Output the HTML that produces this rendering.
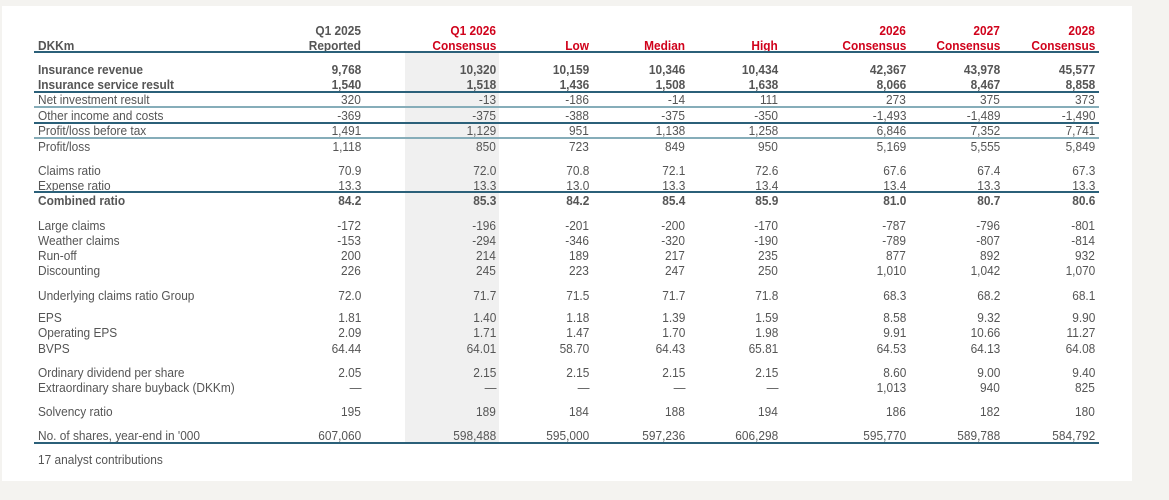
<!DOCTYPE html>
<html><head><meta charset="utf-8"><style>
body{margin:0;width:1169px;height:500px;background:#f4f3f0;position:relative;overflow:hidden;font-family:"Liberation Sans",sans-serif;font-size:12.5px;color:#555}
#p{position:absolute;left:2px;top:6px;width:1130px;height:475px;background:#fff}
#sh{position:absolute;left:405px;top:53px;width:94px;height:389px;background:#f0f0f0}
.r{position:absolute;left:0;width:1169px;height:16px;line-height:16px}
.r span{position:absolute;white-space:nowrap;transform:scaleX(0.95)}
.r span.l{left:38px;transform-origin:left center}
.r span:not(.l){transform-origin:right center}
.c1{right:808px}.c2{right:673px}.c3{right:580px}.c4{right:484px}.c5{right:391px}.c6{right:263px}.c7{right:169px}.c8{right:74px}
.b{font-weight:bold}
.h{font-weight:bold;color:#d0021b}
.hg{font-weight:bold;color:#555}
.ln{position:absolute;left:34px;width:1065px;height:2px;background:#2b6079}
.lt{background:#86adb9}
</style></head><body>
<div id="p"></div><div id="sh"></div>
<div class="r" style="top:23px"><span class="c1 hg">Q1 2025</span><span class="c2 h">Q1 2026</span><span class="c6 h">2026</span><span class="c7 h">2027</span><span class="c8 h">2028</span></div>
<div class="r" style="top:38px"><span class="l hg">DKKm</span><span class="c1 hg">Reported</span><span class="c2 h">Consensus</span><span class="c3 h">Low</span><span class="c4 h">Median</span><span class="c5 h">High</span><span class="c6 h">Consensus</span><span class="c7 h">Consensus</span><span class="c8 h">Consensus</span></div>
<div class="ln" style="top:51px"></div>
<div class="r b" style="top:62px"><span class="l">Insurance revenue</span><span class="c1">9,768</span><span class="c2">10,320</span><span class="c3">10,159</span><span class="c4">10,346</span><span class="c5">10,434</span><span class="c6">42,367</span><span class="c7">43,978</span><span class="c8">45,577</span></div>
<div class="r b" style="top:77px"><span class="l">Insurance service result</span><span class="c1">1,540</span><span class="c2">1,518</span><span class="c3">1,436</span><span class="c4">1,508</span><span class="c5">1,638</span><span class="c6">8,066</span><span class="c7">8,467</span><span class="c8">8,858</span></div>
<div class="ln" style="top:91px"></div>
<div class="r" style="top:92px"><span class="l">Net investment result</span><span class="c1">320</span><span class="c2">-13</span><span class="c3">-186</span><span class="c4">-14</span><span class="c5">111</span><span class="c6">273</span><span class="c7">375</span><span class="c8">373</span></div>
<div class="ln lt" style="top:106px"></div>
<div class="r" style="top:108px"><span class="l">Other income and costs</span><span class="c1">-369</span><span class="c2">-375</span><span class="c3">-388</span><span class="c4">-375</span><span class="c5">-350</span><span class="c6">-1,493</span><span class="c7">-1,489</span><span class="c8">-1,490</span></div>
<div class="ln" style="top:122px"></div>
<div class="r" style="top:123px"><span class="l">Profit/loss before tax</span><span class="c1">1,491</span><span class="c2">1,129</span><span class="c3">951</span><span class="c4">1,138</span><span class="c5">1,258</span><span class="c6">6,846</span><span class="c7">7,352</span><span class="c8">7,741</span></div>
<div class="ln lt" style="top:137px"></div>
<div class="r" style="top:139px"><span class="l">Profit/loss</span><span class="c1">1,118</span><span class="c2">850</span><span class="c3">723</span><span class="c4">849</span><span class="c5">950</span><span class="c6">5,169</span><span class="c7">5,555</span><span class="c8">5,849</span></div>
<div class="r" style="top:163px"><span class="l">Claims ratio</span><span class="c1">70.9</span><span class="c2">72.0</span><span class="c3">70.8</span><span class="c4">72.1</span><span class="c5">72.6</span><span class="c6">67.6</span><span class="c7">67.4</span><span class="c8">67.3</span></div>
<div class="r" style="top:178px"><span class="l">Expense ratio</span><span class="c1">13.3</span><span class="c2">13.3</span><span class="c3">13.0</span><span class="c4">13.3</span><span class="c5">13.4</span><span class="c6">13.4</span><span class="c7">13.3</span><span class="c8">13.3</span></div>
<div class="ln" style="top:191px"></div>
<div class="r b" style="top:193px"><span class="l">Combined ratio</span><span class="c1">84.2</span><span class="c2">85.3</span><span class="c3">84.2</span><span class="c4">85.4</span><span class="c5">85.9</span><span class="c6">81.0</span><span class="c7">80.7</span><span class="c8">80.6</span></div>
<div class="r" style="top:218px"><span class="l">Large claims</span><span class="c1">-172</span><span class="c2">-196</span><span class="c3">-201</span><span class="c4">-200</span><span class="c5">-170</span><span class="c6">-787</span><span class="c7">-796</span><span class="c8">-801</span></div>
<div class="r" style="top:233px"><span class="l">Weather claims</span><span class="c1">-153</span><span class="c2">-294</span><span class="c3">-346</span><span class="c4">-320</span><span class="c5">-190</span><span class="c6">-789</span><span class="c7">-807</span><span class="c8">-814</span></div>
<div class="r" style="top:248px"><span class="l">Run-off</span><span class="c1">200</span><span class="c2">214</span><span class="c3">189</span><span class="c4">217</span><span class="c5">235</span><span class="c6">877</span><span class="c7">892</span><span class="c8">932</span></div>
<div class="r" style="top:263px"><span class="l">Discounting</span><span class="c1">226</span><span class="c2">245</span><span class="c3">223</span><span class="c4">247</span><span class="c5">250</span><span class="c6">1,010</span><span class="c7">1,042</span><span class="c8">1,070</span></div>
<div class="r" style="top:288px"><span class="l">Underlying claims ratio Group</span><span class="c1">72.0</span><span class="c2">71.7</span><span class="c3">71.5</span><span class="c4">71.7</span><span class="c5">71.8</span><span class="c6">68.3</span><span class="c7">68.2</span><span class="c8">68.1</span></div>
<div class="r" style="top:310px"><span class="l">EPS</span><span class="c1">1.81</span><span class="c2">1.40</span><span class="c3">1.18</span><span class="c4">1.39</span><span class="c5">1.59</span><span class="c6">8.58</span><span class="c7">9.32</span><span class="c8">9.90</span></div>
<div class="r" style="top:325px"><span class="l">Operating EPS</span><span class="c1">2.09</span><span class="c2">1.71</span><span class="c3">1.47</span><span class="c4">1.70</span><span class="c5">1.98</span><span class="c6">9.91</span><span class="c7">10.66</span><span class="c8">11.27</span></div>
<div class="r" style="top:341px"><span class="l">BVPS</span><span class="c1">64.44</span><span class="c2">64.01</span><span class="c3">58.70</span><span class="c4">64.43</span><span class="c5">65.81</span><span class="c6">64.53</span><span class="c7">64.13</span><span class="c8">64.08</span></div>
<div class="r" style="top:365px"><span class="l">Ordinary dividend per share</span><span class="c1">2.05</span><span class="c2">2.15</span><span class="c3">2.15</span><span class="c4">2.15</span><span class="c5">2.15</span><span class="c6">8.60</span><span class="c7">9.00</span><span class="c8">9.40</span></div>
<div class="r" style="top:380px"><span class="l">Extraordinary share buyback (DKKm)</span><span class="c1">—</span><span class="c2">—</span><span class="c3">—</span><span class="c4">—</span><span class="c5">—</span><span class="c6">1,013</span><span class="c7">940</span><span class="c8">825</span></div>
<div class="r" style="top:404px"><span class="l">Solvency ratio</span><span class="c1">195</span><span class="c2">189</span><span class="c3">184</span><span class="c4">188</span><span class="c5">194</span><span class="c6">186</span><span class="c7">182</span><span class="c8">180</span></div>
<div class="r" style="top:428px"><span class="l">No. of shares, year-end in '000</span><span class="c1">607,060</span><span class="c2">598,488</span><span class="c3">595,000</span><span class="c4">597,236</span><span class="c5">606,298</span><span class="c6">595,770</span><span class="c7">589,788</span><span class="c8">584,792</span></div>
<div class="ln" style="top:442px"></div>
<div class="r" style="top:452px"><span class="l">17 analyst contributions</span></div>
</body></html>
